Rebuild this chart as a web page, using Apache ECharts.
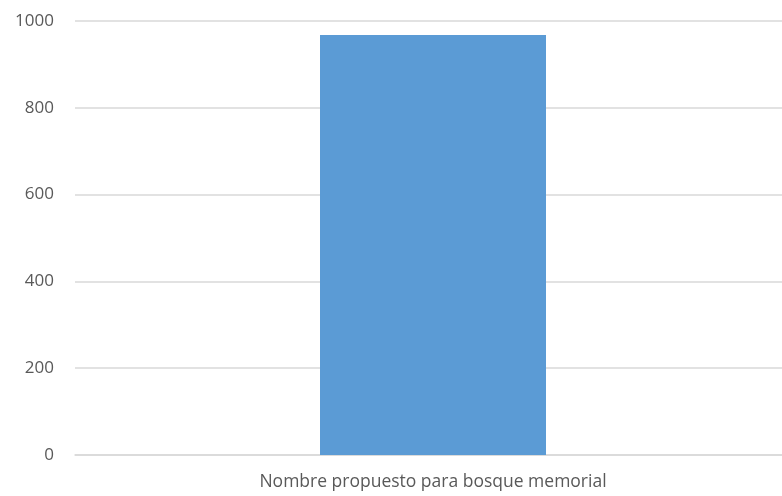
<!DOCTYPE html>
<html><head><meta charset="utf-8">
<script src="https://cdn.jsdelivr.net/npm/echarts@6/dist/echarts.min.js"></script>
<style>html,body{margin:0;padding:0;background:#fff;overflow:hidden}#c{width:800px;height:496px}</style>
</head><body><div id="c"></div>
<script>
const categories = ["Nombre propuesto para bosque memorial"];
const values = [968];
const yTicks = [0, 200, 400, 600, 800, 1000];

const chart = echarts.init(document.getElementById('c'));
chart.setOption({
  animation: false,
  grid: {left: 75, right: 9, top: 21, bottom: 41, containLabel: false},
  xAxis: {
    type: 'category', data: categories,
    axisLine: {lineStyle: {color: '#d9d9d9', width: 1.5}},
    axisTick: {show: false},
    axisLabel: {color: '#595959', fontSize: 17.5, fontFamily: 'Open Sans, sans-serif', margin: 18}
  },
  yAxis: {
    type: 'value', min: yTicks[0], max: yTicks[yTicks.length-1], interval: 200,
    axisLine: {show: false}, axisTick: {show: false},
    splitLine: {lineStyle: {color: '#d9d9d9', width: 1.5}},
    axisLabel: {color: '#595959', fontSize: 17, fontFamily: 'Open Sans, sans-serif', margin: 21,
      formatter: v => String(v)}
  },
  series: [{
    type: 'bar', data: values, barWidth: 226,
    itemStyle: {color: '#5b9bd5'}
  }]
});
</script></body></html>
